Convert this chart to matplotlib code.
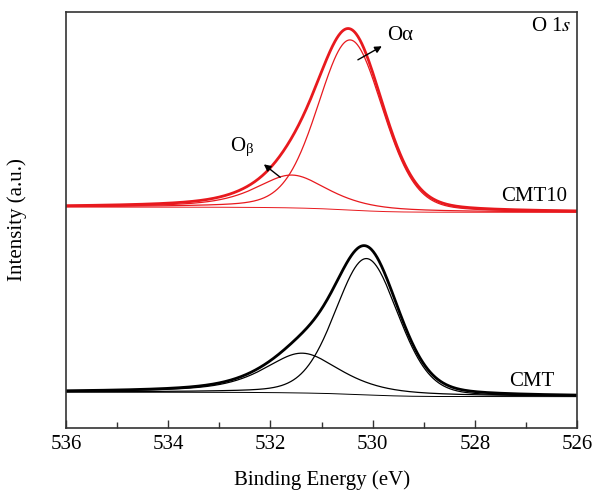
import numpy as np
import matplotlib
matplotlib.use("Agg")
import matplotlib.pyplot as plt

plt.rcParams['font.family'] = ['Liberation Serif', 'DejaVu Serif']
plt.rcParams['mathtext.fontset'] = 'stix'

# fitted O 1s components: centre (eV), height, FWHM (eV), Lorentzian share
samples = ['CMT', 'CMT10']
colors = ['black', '#e8191e']
o_alpha_center = [530.12, 530.44]
o_alpha_height = [137, 171]
o_alpha_fwhm = [1.45, 1.50]
o_beta_center = [531.38, 531.58]
o_beta_height = [40, 33]
o_beta_fwhm = [1.80, 1.70]
alpha_mix = 0.2
beta_mix = 0.7
# background level at 536 eV and 526 eV (stacked, arbitrary units)
bg_high = [36, 222]
bg_low = [31.5, 216.7]
label_y = [47, 233]

energy = np.linspace(526, 536, 801)


def pseudo_voigt(x, c, h, w, eta):
    g = np.exp(-4 * np.log(2) * (x - c) ** 2 / w ** 2)
    l = 1 / (1 + 4 * (x - c) ** 2 / w ** 2)
    return h * (eta * l + (1 - eta) * g)


def shirley(x, peaks, hi, lo):
    # cumulative area from the low binding energy side
    cum = np.cumsum(peaks)
    frac = cum / cum[-1]
    return lo + (hi - lo) * frac


fig = plt.figure(figsize=(5.95, 4.94), dpi=100)
ax = fig.add_axes([0.111, 0.1336, 0.859, 0.842])

for i in range(len(samples)):
    pa = pseudo_voigt(energy, o_alpha_center[i], o_alpha_height[i], o_alpha_fwhm[i], alpha_mix)
    pb = pseudo_voigt(energy, o_beta_center[i], o_beta_height[i], o_beta_fwhm[i], beta_mix)
    bg = shirley(energy, pa + pb, bg_high[i], bg_low[i])
    c = colors[i]
    ax.plot(energy, bg, color=c, lw=0.7)
    ax.plot(energy, bg + pa, color=c, lw=0.9)
    ax.plot(energy, bg + pb, color=c, lw=0.9)
    ax.plot(energy, bg + pa + pb, color=c, lw=2.0)
    ax.text(526.2 if i == 1 else 526.45, label_y[i], samples[i], fontsize=15,
            ha='right', va='center')

ax.text(526.12, 403, 'O 1$s$', fontsize=15, ha='right', va='center')
ax.annotate('Oα', xy=(530.29, 370), xytext=(529.72, 394), fontsize=15,
            va='center', ha='left',
            arrowprops=dict(arrowstyle='<|-', color='black', lw=1.0,
                            mutation_scale=10, shrinkA=2, shrinkB=0))
ax.annotate(r'O$_\mathregular{β}$', xy=(531.81, 252), xytext=(532.55, 282), fontsize=15,
            va='center', ha='center',
            arrowprops=dict(arrowstyle='<|-', color='black', lw=1.0,
                            mutation_scale=10, shrinkA=6, shrinkB=0))

ax.set_xlim(536, 526)
ax.set_ylim(0, 418)
ax.set_xticks(np.arange(536, 525, -2))
ax.set_xticks(np.arange(535, 526, -2), minor=True)
ax.tick_params(axis='x', which='both', direction='in', labelsize=15, pad=5,
               color='#333333')
ax.tick_params(axis='x', which='major', length=6, width=1)
ax.tick_params(axis='x', which='minor', length=4, width=1)
ax.set_yticks([])
for s in ax.spines.values():
    s.set_color('#333333')
    s.set_linewidth(1.2)

ax.set_xlabel('Binding Energy (eV)', fontsize=15, labelpad=12)
ax.set_ylabel('Intensity (a.u.)', fontsize=15, labelpad=28)

fig.savefig('out.png', dpi=100)
